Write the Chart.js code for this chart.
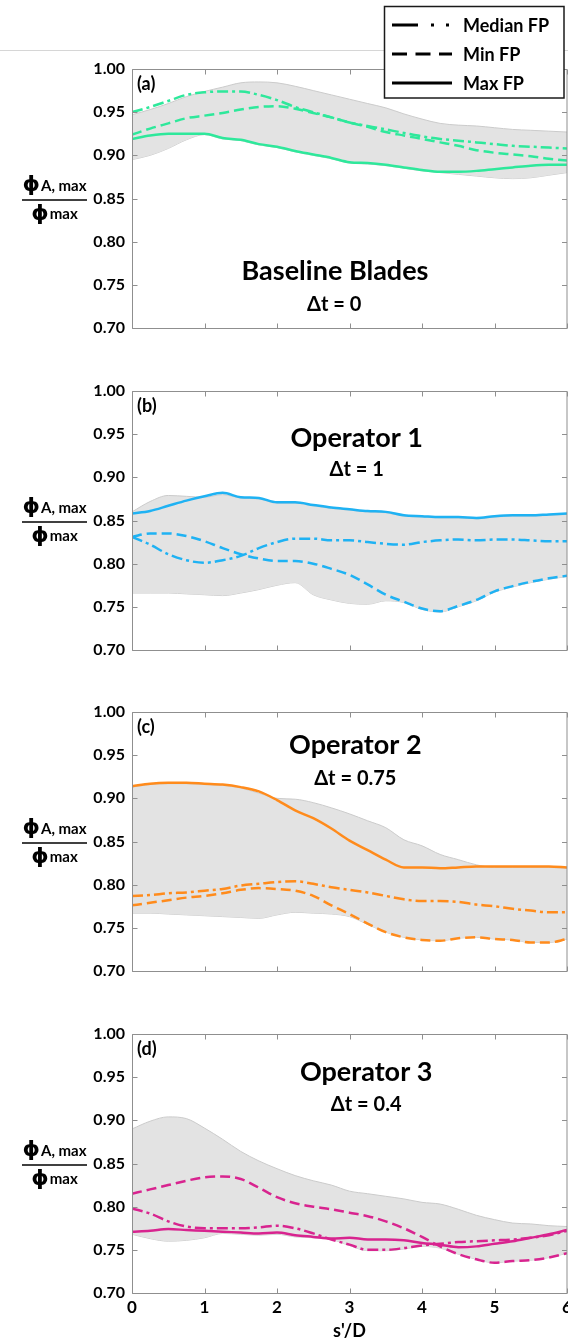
<!DOCTYPE html>
<html>
<head>
<meta charset="utf-8">
<script src="https://cdn.jsdelivr.net/npm/chart.js@4.4.1/dist/chart.umd.min.js"></script>
<style>
  html, body { margin: 0; padding: 0; background: #fff; }
  body { width: 568px; height: 1344px; position: relative; overflow: hidden; }
  .panel { position: absolute; left: 0; width: 568px; }
</style>
</head>
<body>
<div class="panel" id="p0"><canvas id="c0"></canvas></div>
<div class="panel" id="p1"><canvas id="c1"></canvas></div>
<div class="panel" id="p2"><canvas id="c2"></canvas></div>
<div class="panel" id="p3"><canvas id="c3"></canvas></div>
<script>
// ---- sampling positions along the wake (s'/D) ----
const S_D = [0, 0.25, 0.5, 0.75, 1, 1.25, 1.5, 1.75, 2, 2.25, 2.5, 2.75, 3,
             3.25, 3.5, 3.75, 4, 4.25, 4.5, 4.75, 5, 5.25, 5.5, 5.75, 6];

// ---- (a) baseline blades ----
const A_MEDIAN = [0.950,0.956,0.963,0.970,0.973,0.974,0.974,0.970,0.964,0.956,0.950,0.944,0.938,
                  0.934,0.930,0.926,0.922,0.919,0.917,0.915,0.913,0.911,0.910,0.909,0.908];
const A_MIN    = [0.924,0.931,0.937,0.943,0.946,0.949,0.953,0.956,0.957,0.954,0.949,0.944,0.938,
                  0.933,0.927,0.923,0.919,0.915,0.911,0.906,0.903,0.901,0.899,0.896,0.894];
const A_MAX    = [0.919,0.923,0.925,0.925,0.925,0.920,0.918,0.913,0.910,0.905,0.901,0.897,0.892,
                  0.891,0.889,0.886,0.883,0.881,0.881,0.882,0.884,0.886,0.888,0.889,0.889];
const A_BAND_HI = [0.947,0.953,0.960,0.968,0.974,0.979,0.984,0.985,0.984,0.980,0.975,0.970,0.965,
                   0.960,0.955,0.948,0.942,0.937,0.935,0.934,0.932,0.930,0.929,0.928,0.927];
const A_BAND_LO = [0.895,0.900,0.908,0.918,0.924,0.919,0.917,0.912,0.909,0.904,0.900,0.896,0.891,
                   0.890,0.888,0.885,0.882,0.880,0.878,0.876,0.874,0.873,0.874,0.877,0.880];

// ---- (b) operator 1 ----
const B_MEDIAN = [0.831,0.822,0.811,0.804,0.801,0.804,0.809,0.818,0.825,0.829,0.829,0.827,0.827,
                  0.825,0.823,0.822,0.825,0.827,0.828,0.827,0.828,0.828,0.827,0.826,0.826];
const B_MIN    = [0.831,0.835,0.835,0.832,0.826,0.818,0.811,0.806,0.803,0.803,0.800,0.794,0.787,
                  0.776,0.764,0.756,0.748,0.745,0.751,0.758,0.768,0.774,0.779,0.783,0.786];
const B_MAX    = [0.858,0.861,0.867,0.873,0.878,0.882,0.877,0.876,0.871,0.871,0.868,0.865,0.863,
                  0.861,0.860,0.856,0.855,0.854,0.854,0.853,0.855,0.856,0.856,0.857,0.858];
const B_BAND_HI = [0.860,0.872,0.879,0.878,0.877,0.880,0.876,0.875,0.870,0.870,0.867,0.864,0.862,
                   0.860,0.859,0.855,0.854,0.853,0.853,0.852,0.854,0.855,0.855,0.856,0.857];
const B_BAND_LO = [0.766,0.766,0.766,0.765,0.764,0.763,0.766,0.770,0.775,0.778,0.764,0.758,0.754,
                   0.753,0.757,0.755,0.747,0.744,0.750,0.757,0.767,0.773,0.778,0.782,0.785];

// ---- (c) operator 2 ----
const C_MEDIAN = [0.787,0.788,0.790,0.791,0.793,0.795,0.799,0.801,0.803,0.804,0.801,0.797,0.794,
                  0.791,0.787,0.783,0.781,0.781,0.780,0.777,0.775,0.772,0.770,0.768,0.768];
const C_MIN    = [0.776,0.779,0.782,0.785,0.787,0.790,0.794,0.796,0.795,0.793,0.787,0.776,0.766,
                  0.755,0.745,0.739,0.736,0.735,0.738,0.739,0.737,0.736,0.733,0.733,0.737];
const C_MAX    = [0.914,0.917,0.918,0.918,0.917,0.916,0.913,0.908,0.898,0.886,0.877,0.865,0.851,
                  0.840,0.829,0.820,0.820,0.819,0.820,0.821,0.821,0.821,0.821,0.821,0.820];
const C_BAND_HI = [0.913,0.916,0.917,0.917,0.916,0.915,0.912,0.906,0.900,0.899,0.895,0.889,0.882,
                   0.874,0.866,0.852,0.845,0.835,0.829,0.823,0.820,0.820,0.820,0.820,0.819];
const C_BAND_LO = [0.767,0.767,0.766,0.765,0.764,0.763,0.762,0.761,0.765,0.768,0.767,0.766,0.763,
                   0.754,0.745,0.739,0.736,0.735,0.738,0.739,0.737,0.736,0.733,0.733,0.737];

// ---- (d) operator 3 ----
const D_MEDIAN = [0.798,0.792,0.783,0.777,0.775,0.775,0.775,0.776,0.778,0.775,0.769,0.762,0.756,
                  0.750,0.750,0.752,0.755,0.757,0.759,0.760,0.761,0.762,0.764,0.767,0.772];
const D_MIN    = [0.815,0.820,0.825,0.830,0.834,0.835,0.832,0.822,0.811,0.804,0.800,0.797,0.793,
                  0.789,0.783,0.775,0.765,0.754,0.745,0.739,0.735,0.737,0.738,0.741,0.746];
const D_MAX    = [0.771,0.772,0.774,0.773,0.772,0.771,0.770,0.769,0.770,0.767,0.765,0.763,0.764,
                  0.762,0.762,0.761,0.758,0.756,0.753,0.754,0.757,0.760,0.764,0.768,0.773];
const D_BAND_HI = [0.890,0.899,0.904,0.902,0.891,0.878,0.864,0.853,0.844,0.836,0.830,0.825,0.818,
                   0.815,0.812,0.809,0.805,0.803,0.797,0.790,0.785,0.781,0.780,0.778,0.777];
const D_BAND_LO = [0.768,0.763,0.760,0.761,0.764,0.769,0.768,0.767,0.768,0.765,0.764,0.762,0.755,
                   0.749,0.749,0.751,0.754,0.752,0.745,0.739,0.735,0.737,0.738,0.741,0.746];

// ---- axes and labels ----
const X_TICKS = [0, 1, 2, 3, 4, 5, 6];
const Y_TICKS = [0.70, 0.75, 0.80, 0.85, 0.90, 0.95, 1.00];
const SERIES_NAMES = ['Median FP', 'Min FP', 'Max FP'];
const PANEL_TAGS = ['(a)', '(b)', '(c)', '(d)'];
const PANEL_TITLES = ['Baseline Blades', 'Operator 1', 'Operator 2', 'Operator 3'];
const PANEL_SUBTITLES = ['\u0394t = 0', '\u0394t = 1', '\u0394t = 0.75', '\u0394t = 0.4'];
const X_TITLE = "s'/D";

// ---- styling ----
const LINE_COLORS = ['#2ee89b', '#1fb2f3', '#ff8b1c', '#d8248f'];
const SERIES_DASH = [[11, 4, 3, 4], [10, 5], []];
const LEGEND_DASH = [[26, 13, 3, 12, 3], [15, 8.5], []];
const BAND_FILL = '#e3e3e3';
const BAND_EDGE = '#cbcbcb';
const FRAME = '#8f8f8f';
const FONT = 'Lato, "DejaVu Sans", sans-serif';

// ---- layout (px) ----
const PLOT_LEFT = 132;
const PLOT_H = 259;
const PLOT_TOPS = [69, 391, 712, 1034];
const TITLE_AT = [[2.80, 0.767], [3.10, 0.9456], [3.08, 0.9618], [3.23, 0.956]];
const SUB_AT   = [[2.79, 0.7284], [3.10, 0.9097], [3.08, 0.9247], [3.23, 0.920]];

const PANEL_DATA = [
  [A_MEDIAN, A_MIN, A_MAX, A_BAND_HI, A_BAND_LO],
  [B_MEDIAN, B_MIN, B_MAX, B_BAND_HI, B_BAND_LO],
  [C_MEDIAN, C_MIN, C_MAX, C_BAND_HI, C_BAND_LO],
  [D_MEDIAN, D_MIN, D_MAX, D_BAND_HI, D_BAND_LO]
];

Chart.defaults.font.family = FONT;
Chart.defaults.font.weight = 'bold';
Chart.defaults.color = '#000';

function points(ys) { return S_D.map((x, i) => ({ x: x, y: ys[i] })); }

function capCenterBaseline(ctx, cy) {
  const m = ctx.measureText('H');
  return cy + m.actualBoundingBoxAscent / 2;
}

// frame box with inward tick marks on all four sides
const framePlugin = {
  id: 'frame',
  afterDraw(chart) {
    const ctx = chart.ctx;
    const { left, right, top, bottom } = chart.chartArea;
    ctx.save();
    ctx.strokeStyle = FRAME;
    ctx.lineWidth = 1;
    ctx.beginPath();
    ctx.rect(left + 0.5, top + 0.5, right - left - 0.5, bottom - top);
    const xs = chart.scales.x, ys = chart.scales.y;
    xs.ticks.forEach(t => {
      const px = Math.round(xs.getPixelForValue(t.value)) + 0.5;
      ctx.moveTo(px, bottom + 0.5); ctx.lineTo(px, bottom - 4.5);
      ctx.moveTo(px, top + 0.5); ctx.lineTo(px, top + 5.5);
    });
    ys.ticks.forEach(t => {
      const py = Math.round(ys.getPixelForValue(t.value)) + 0.5;
      ctx.moveTo(left + 0.5, py); ctx.lineTo(left + 5.5, py);
      ctx.moveTo(right, py); ctx.lineTo(right - 5, py);
    });
    ctx.stroke();
    ctx.restore();
  }
};

// panel tag, title block and the stacked y-axis quantity
const notesPlugin = {
  id: 'notes',
  afterDraw(chart, args, opts) {
    const ctx = chart.ctx;
    const i = opts.index;
    const { left, top } = chart.chartArea;
    const xs = chart.scales.x, ys = chart.scales.y;
    ctx.save();
    ctx.fillStyle = '#000';
    ctx.textAlign = 'left';
    ctx.textBaseline = 'alphabetic';

    // tag
    ctx.font = 'bold 18px ' + FONT;
    ctx.fillText(PANEL_TAGS[i], left + 5, capCenterBaseline(ctx, top + 13.5));

    // title and time-step line
    ctx.textAlign = 'center';
    ctx.font = 'bold 27px ' + FONT;
    ctx.fillText(PANEL_TITLES[i], xs.getPixelForValue(TITLE_AT[i][0]),
                 capCenterBaseline(ctx, ys.getPixelForValue(TITLE_AT[i][1])));
    ctx.font = 'bold 20px ' + FONT;
    ctx.fillText(PANEL_SUBTITLES[i], xs.getPixelForValue(SUB_AT[i][0]),
                 capCenterBaseline(ctx, ys.getPixelForValue(SUB_AT[i][1])));

    // y quantity as a fraction: phi_{A,max} / phi_{max}
    const barY = ys.getPixelForValue(0.85) + 1.5;
    const cx = 54.5;
    const phiFont = 'bold 22px "DejaVu Sans", sans-serif';
    const subFont = 'bold 15px ' + FONT;
    ctx.textAlign = 'left';
    function term(sub, phiCy, subBase) {
      ctx.font = phiFont;
      const pm = ctx.measureText('\u03D5');
      ctx.font = subFont;
      const sw = ctx.measureText(sub).width;
      const total = pm.width + 1 + sw;
      const x0 = cx - total / 2;
      ctx.font = phiFont;
      const base = phiCy + (pm.actualBoundingBoxAscent - pm.actualBoundingBoxDescent) / 2;
      ctx.fillText('\u03D5', x0, base);
      ctx.font = subFont;
      ctx.fillText(sub, x0 + pm.width + 1, subBase);
    }
    term('A, max', barY - 15.5, barY - 9);
    term('max', barY + 13.5, barY + 18.5);
    ctx.strokeStyle = '#000';
    ctx.lineWidth = 1.5;
    ctx.beginPath();
    ctx.moveTo(22, barY); ctx.lineTo(87, barY);
    ctx.stroke();

    if (i === 0) {
      // thin rule across the top of the figure
      ctx.strokeStyle = '#d6d6d6';
      ctx.lineWidth = 1;
      ctx.beginPath();
      ctx.moveTo(0, 50.5); ctx.lineTo(568, 50.5);
      ctx.stroke();
      // legend box
      ctx.fillStyle = '#fff';
      ctx.fillRect(384, 6, 180, 92);
      ctx.strokeStyle = '#1a1a1a';
      ctx.lineWidth = 1.5;
      ctx.strokeRect(384.5, 6.5, 179.5, 91.5);
      const rowsY = [25, 54, 83];
      ctx.font = 'bold 18px ' + FONT;
      ctx.textBaseline = 'middle';
      ctx.fillStyle = '#000';
      SERIES_NAMES.forEach((name, k) => {
        ctx.save();
        ctx.strokeStyle = '#000';
        ctx.lineWidth = 3;
        ctx.setLineDash(LEGEND_DASH[k]);
        ctx.beginPath();
        ctx.moveTo(392, rowsY[k]); ctx.lineTo(452, rowsY[k]);
        ctx.stroke();
        ctx.restore();
        ctx.fillText(name, 463, rowsY[k] + 1);
      });
    }
    ctx.restore();
  }
};

PANEL_DATA.forEach((series, i) => {
  const last = i === PANEL_DATA.length - 1;
  const canvasTop = i === 0 ? 0 : PLOT_TOPS[i] - 40;
  const padTop = PLOT_TOPS[i] - canvasTop;
  const xAxisH = last ? 1344 - (PLOT_TOPS[i] + PLOT_H) : 30;
  const height = padTop + PLOT_H + xAxisH;
  const holder = document.getElementById('p' + i);
  holder.style.top = canvasTop + 'px';
  holder.style.height = height + 'px';
  const canvas = document.getElementById('c' + i);
  canvas.width = 568; canvas.height = height;
  canvas.style.width = '568px'; canvas.style.height = height + 'px';

  const color = LINE_COLORS[i];
  const datasets = SERIES_NAMES.map((name, k) => ({
    label: name,
    data: points(series[k]),
    borderColor: color,
    borderWidth: 2.5,
    borderDash: SERIES_DASH[k],
    borderCapStyle: 'butt',
    pointRadius: 0,
    fill: false,
    cubicInterpolationMode: 'monotone'
  }));
  datasets.push({
    label: 'range upper',
    data: points(series[3]),
    borderColor: BAND_EDGE, borderWidth: 1,
    backgroundColor: BAND_FILL,
    fill: '+1', pointRadius: 0, cubicInterpolationMode: 'monotone'
  });
  datasets.push({
    label: 'range lower',
    data: points(series[4]),
    borderColor: BAND_EDGE, borderWidth: 1,
    fill: false, pointRadius: 0, cubicInterpolationMode: 'monotone'
  });

  new Chart(canvas, {
    type: 'line',
    data: { datasets },
    options: {
      responsive: false,
      animation: false,
      devicePixelRatio: 1,
      events: [],
      layout: { padding: { top: padTop, right: 1, left: 0, bottom: 0 } },
      plugins: {
        legend: { display: false },
        tooltip: { enabled: false },
        notes: { index: i }
      },
      scales: {
        x: {
          type: 'linear', min: 0, max: 6,
          afterBuildTicks(s) { s.ticks = X_TICKS.map(v => ({ value: v })); },
          afterFit(s) { s.height = xAxisH; s.paddingLeft = 0; s.paddingRight = 0; },
          grid: { display: false, drawTicks: false },
          border: { display: false },
          ticks: {
            display: last, padding: 4, color: '#000',
            font: { size: 17, weight: 'bold' },
            maxRotation: 0, autoSkip: false,
            callback: v => String(v)
          },
          title: {
            display: last, text: X_TITLE, color: '#000',
            font: { size: 18, weight: 'bold' },
            padding: { top: 0, bottom: 2 }
          }
        },
        y: {
          type: 'linear', min: 0.70, max: 1.00,
          afterBuildTicks(s) { s.ticks = Y_TICKS.map(v => ({ value: v })); },
          afterFit(s) { s.width = PLOT_LEFT; s.paddingTop = 0; s.paddingBottom = 0; },
          grid: { display: false, drawTicks: false },
          border: { display: false },
          ticks: {
            padding: 7, color: '#000',
            font: { size: 16, weight: 'bold' },
            callback: v => Number(v).toFixed(2)
          }
        }
      }
    },
    plugins: [framePlugin, notesPlugin]
  });
});
</script>
</body>
</html>
